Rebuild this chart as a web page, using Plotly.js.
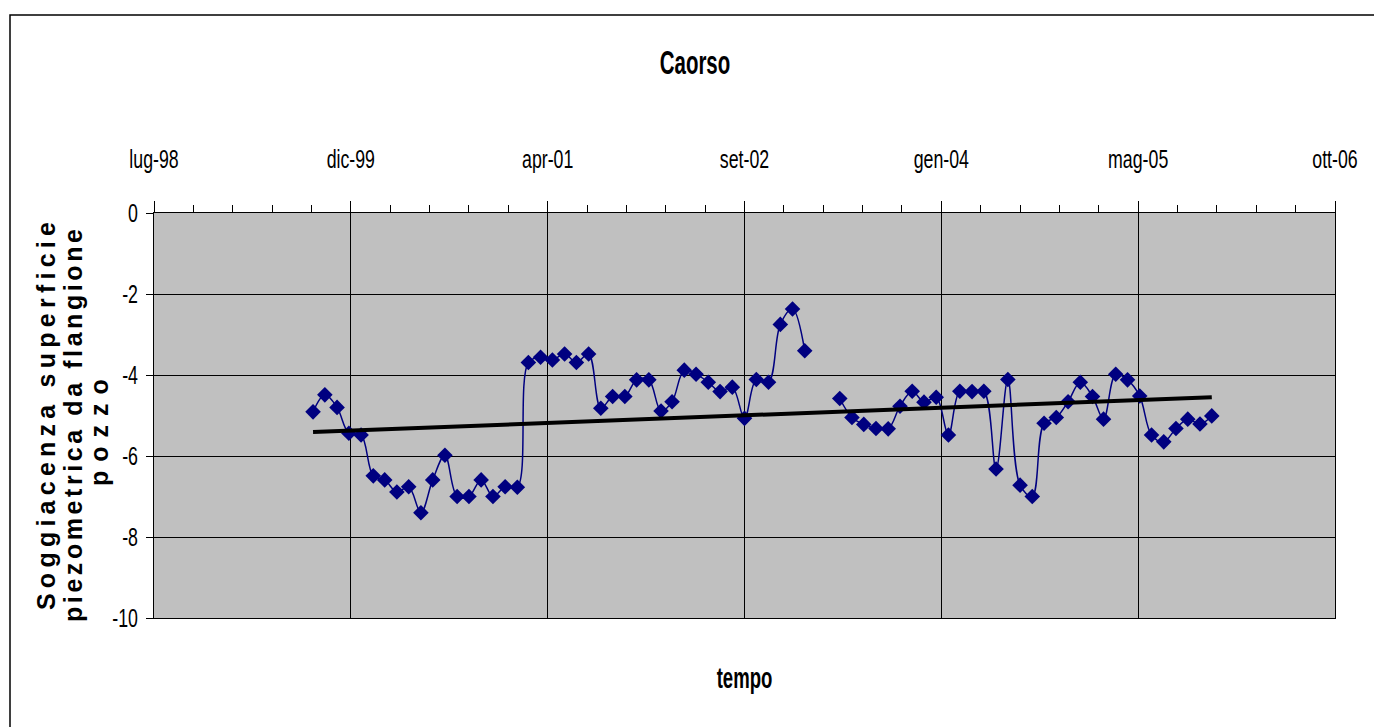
<!DOCTYPE html>
<html>
<head>
<meta charset="utf-8">
<script src="https://cdn.plot.ly/plotly-3.0.1.min.js"></script>
<style>
  html, body { margin: 0; padding: 0; background: #ffffff; }
  #chart { width: 1374px; height: 727px; }
</style>
</head>
<body>
<div id="chart"></div>
<script>
// ---- Data (monthly readings) ----
const dates = [
  '1999-09-01','1999-10-01','1999-11-01','1999-12-01',
  '2000-01-01','2000-02-01','2000-03-01','2000-04-01','2000-05-01','2000-06-01',
  '2000-07-01','2000-08-01','2000-09-01','2000-10-01','2000-11-01','2000-12-01',
  '2001-01-01','2001-02-01','2001-03-01','2001-04-01','2001-05-01','2001-06-01',
  '2001-07-01','2001-08-01','2001-09-01','2001-10-01','2001-11-01','2001-12-01',
  '2002-01-01','2002-02-01','2002-03-01','2002-04-01','2002-05-01','2002-06-01',
  '2002-07-01','2002-08-01','2002-09-01','2002-10-01','2002-11-01','2002-12-01',
  '2003-01-01','2003-02-01','2003-03-01','2003-04-01','2003-05-01','2003-06-01',
  '2003-07-01','2003-08-01','2003-09-01','2003-10-01','2003-11-01','2003-12-01',
  '2004-01-01','2004-02-01','2004-03-01','2004-04-01','2004-05-01','2004-06-01',
  '2004-07-01','2004-08-01','2004-09-01','2004-10-01','2004-11-01','2004-12-01',
  '2005-01-01','2005-02-01','2005-03-01','2005-04-01','2005-05-01','2005-06-01',
  '2005-07-01','2005-08-01','2005-09-01','2005-10-01','2005-11-01','2005-12-01'
];
const soggiacenza = [
  -4.91,-4.49,-4.80,-5.44,
  -5.48,-6.49,-6.59,-6.89,-6.76,-7.40,
  -6.59,-5.98,-7.00,-7.00,-6.59,-7.00,
  -6.76,-6.77,-3.69,-3.56,-3.63,-3.48,
  -3.69,-3.48,-4.82,-4.53,-4.53,-4.12,
  -4.12,-4.89,-4.66,-3.88,-3.98,-4.18,
  -4.41,-4.30,-5.07,-4.11,-4.18,-2.75,
  -2.37,-3.40,null,null,-4.58,-5.05,
  -5.22,-5.32,-5.33,-4.77,-4.40,-4.67,
  -4.55,-5.48,-4.40,-4.41,-4.40,-6.32,
  -4.11,-6.72,-7.00,-5.19,-5.05,-4.66,
  -4.18,-4.53,-5.09,-3.98,-4.12,-4.52,
  -5.48,-5.65,-5.32,-5.09,-5.21,-5.01
];

// Axis tick positions (spreadsheet serials 36000..39000 step 500) and labels
const xTickDates = ['1998-07-24','1999-12-06','2001-04-19','2002-09-01','2004-01-14','2005-05-28','2006-10-10'];
const xTickLabels = ['lug-98','dic-99','apr-01','set-02','gen-04','mag-05','ott-06'];
const yTickVals = [0,-2,-4,-6,-8,-10];
const yTickLabels = ['0','-2','-4','-6','-8','-10'];

const chartTitle = 'Caorso';
const xTitle = 'tempo';
const yTitleLines = ['Soggiacenza superficie', 'piezometrica da flangione', 'pozzo'];

// ---- Linear trend (least squares, as the spreadsheet trendline) ----
const pts = [];
dates.forEach((d, i) => { if (soggiacenza[i] !== null) pts.push([new Date(d).getTime(), soggiacenza[i]]); });
const n = pts.length;
const mx = pts.reduce((s, p) => s + p[0], 0) / n;
const my = pts.reduce((s, p) => s + p[1], 0) / n;
let sxy = 0, sxx = 0;
pts.forEach(p => { sxy += (p[0] - mx) * (p[1] - my); sxx += (p[0] - mx) * (p[0] - mx); });
const slope = sxy / sxx;
const x0 = pts[0][0], x1 = pts[n - 1][0];
const trendX = [dates[0], dates[dates.length - 1]];
const trendY = [my + slope * (x0 - mx), my + slope * (x1 - mx)];

// ---- Layout geometry helpers ----
const L = 154, R = 1335, T = 213, B = 618;
const px2x = p => (p - L) / (R - L);
const px2y = p => (B - p) / (B - T);

const sans = '"Liberation Sans", Arial, Helvetica, sans-serif';

const traces = [
  {
    type: 'scatter', mode: 'lines+markers',
    x: dates, y: soggiacenza,
    connectgaps: false,
    line: { color: '#000080', width: 1.5, shape: 'spline', smoothing: 1 },
    marker: { symbol: 'diamond', size: 12, color: '#000080' },
    hoverinfo: 'x+y', showlegend: false
  },
  {
    type: 'scatter', mode: 'lines',
    x: trendX, y: trendY,
    line: { color: '#000000', width: 4 },
    hoverinfo: 'skip', showlegend: false
  }
];

const layout = {
  width: 1374, height: 727,
  margin: { l: L, r: 1374 - R, t: T, b: 727 - B, pad: 0 },
  paper_bgcolor: '#ffffff',
  plot_bgcolor: '#C0C0C0',
  showlegend: false,
  title: {
    text: chartTitle,
    font: { family: sans, size: 34, weight: 'bold', color: '#000000' },
    xref: 'container', yref: 'container',
    x: 695 / 1374, y: 1 - 62 / 727, xanchor: 'center', yanchor: 'middle'
  },
  xaxis: {
    type: 'date', side: 'top',
    range: ['1998-07-24', '2006-10-10'],
    tickmode: 'array', tickvals: xTickDates, ticktext: xTickLabels,
    ticks: 'outside', ticklen: 11, tickwidth: 1, tickcolor: '#000000',
    ticklabelstandoff: 23,
    tickfont: { family: sans, size: 25, color: '#000000' },
    showgrid: true, gridcolor: '#000000', gridwidth: 1,
    showline: true, linecolor: '#000000', linewidth: 1, mirror: true,
    zeroline: false,
    minor: {
      tick0: '1998-07-24', dtick: 100 * 86400000,
      ticks: 'outside', ticklen: 7, tickwidth: 1, tickcolor: '#000000',
      showgrid: false
    },
    fixedrange: true
  },
  yaxis: {
    range: [-10, 0],
    tickmode: 'array', tickvals: yTickVals, ticktext: yTickLabels,
    ticks: 'outside', ticklen: 7, tickwidth: 1, tickcolor: '#000000',
    ticklabelstandoff: 3,
    tickfont: { family: sans, size: 25, color: '#000000' },
    showgrid: true, gridcolor: '#000000', gridwidth: 1,
    showline: true, linecolor: '#000000', linewidth: 1, mirror: true,
    zeroline: false,
    fixedrange: true
  },
  shapes: [
    { type: 'rect', xref: 'paper', yref: 'paper',
      x0: px2x(10), x1: px2x(1400), y0: px2y(760), y1: px2y(15),
      line: { color: '#000000', width: 1.5 }, fillcolor: 'rgba(0,0,0,0)', layer: 'below' }
  ],
  annotations: [
    { xref: 'paper', yref: 'paper', x: px2x(46), y: px2y(416), xanchor: 'center', yanchor: 'middle',
      textangle: -90, showarrow: false, text: yTitleLines[0],
      font: { family: sans, size: 25, weight: 'bold', color: '#000000' } },
    { xref: 'paper', yref: 'paper', x: px2x(73), y: px2y(426), xanchor: 'center', yanchor: 'middle',
      textangle: -90, showarrow: false, text: yTitleLines[1],
      font: { family: sans, size: 25, weight: 'bold', color: '#000000' } },
    { xref: 'paper', yref: 'paper', x: px2x(99), y: px2y(433), xanchor: 'center', yanchor: 'middle',
      textangle: -90, showarrow: false, text: yTitleLines[2],
      font: { family: sans, size: 25, weight: 'bold', color: '#000000' } },
    { xref: 'paper', yref: 'paper', x: px2x(744), y: px2y(678), xanchor: 'center', yanchor: 'middle',
      showarrow: false, text: xTitle,
      font: { family: sans, size: 29, weight: 'bold', color: '#000000' } }
  ]
};

// Condense the (tall, narrow) lettering of the original spreadsheet chart
function condense(el, length, mode) {
  if (!el || !el.getComputedTextLength) return;
  const w = el.getComputedTextLength();
  if (!w) return;
  el.setAttribute('lengthAdjust', mode);
  el.setAttribute('textLength', length(w).toFixed(1));
}

Plotly.newPlot('chart', traces, layout, { displayModeBar: false, staticPlot: true }).then(gd => {
  gd.querySelectorAll('.xtick text, .ytick text').forEach(t => condense(t, w => w * 0.71, 'spacingAndGlyphs'));
  condense(gd.querySelector('.gtitle'), w => w * 0.6, 'spacingAndGlyphs');
  const yTitleLen = { };
  yTitleLen[yTitleLines[0]] = 388;
  yTitleLen[yTitleLines[1]] = 393;
  yTitleLen[yTitleLines[2]] = 107;
  gd.querySelectorAll('.annotation-text').forEach(t => {
    const s = t.textContent;
    if (yTitleLen[s]) condense(t, () => yTitleLen[s], 'spacing');
    else if (s === xTitle) condense(t, w => w * 0.64, 'spacingAndGlyphs');
  });
});
</script>
</body>
</html>
